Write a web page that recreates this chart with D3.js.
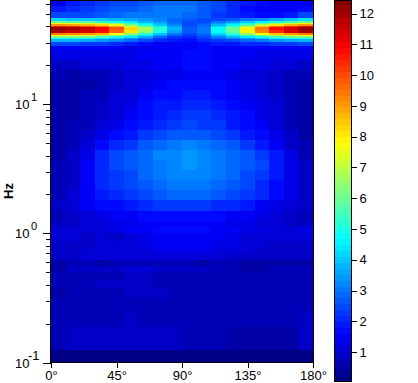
<!DOCTYPE html>
<html><head><meta charset="utf-8">
<script src="https://cdnjs.cloudflare.com/ajax/libs/d3/7.8.5/d3.min.js"></script>
<style>
html,body{margin:0;padding:0;background:#fff}
svg{display:block}
text{font-family:"Liberation Sans",Arial,sans-serif;fill:#000}
</style></head><body>
<svg id="c" width="418" height="383"></svg>
<script>
const angleEdges=[0,10,20,30,40,50,60,70,80,90,100,110,120,130,140,150,160,170,180];
const freqEdges=[64,57.5,51.7,46.4,44,42.8,41.7,40.6,39.5,37.5,35.5,34.6,33.7,32.8,31.9,30.2,28.2,26.2,21.9,18.3,15.3,12.8,10.7,8.98,7.52,6.29,5.26,4.4,3.68,3.08,2.58,2.15,1.8,1.5,1.25,1.125,1,0.875,0.75,0.6875,0.625,0.5625,0.5,0.4375,0.375,0.3125,0.25,0.1875,0.125,0.1];
const power=[
[1.3,1.9,2.0,2.3,2.4,2.5,2.7,2.8,2.9,2.9,2.6,2.4,2.1,1.8,1.6,1.4,1.4,1.5],
[1.8,2.1,2.3,2.5,2.6,2.7,2.9,3.0,3.0,3.0,2.7,2.4,2.0,1.7,1.5,1.4,1.4,1.7],
[2.5,2.5,2.5,2.7,2.9,3.0,3.0,3.0,3.0,2.9,2.6,2.3,2.1,1.8,1.7,1.7,1.9,2.4],
[4.2,4.1,4.1,4.0,3.8,3.6,3.4,3.2,2.9,2.6,2.4,2.5,2.7,3.0,3.3,3.7,4.0,4.3],
[5.9,5.8,5.7,5.4,4.9,4.4,3.9,3.4,2.9,2.5,2.5,3.0,3.5,4.0,4.6,5.2,5.6,5.9],
[7.6,7.5,7.3,6.9,6.3,5.4,4.6,3.8,3.1,2.5,2.7,3.5,4.2,4.9,5.8,6.6,7.2,7.6],
[9.1,8.9,8.7,8.2,7.4,6.2,5.0,4.1,3.3,2.5,2.8,3.8,4.6,5.6,7.0,8.0,8.7,9.1],
[10.6,10.4,10.1,9.7,8.8,7.3,5.9,4.7,3.6,2.6,2.9,4.2,5.3,6.8,8.4,9.5,10.2,10.7],
[12.2,12.0,11.6,11.0,9.9,8.2,6.8,5.2,3.8,2.6,3.1,4.7,5.9,7.8,9.4,10.7,11.4,12.2],
[11.9,11.6,11.4,10.8,9.6,8.0,6.5,5.0,3.7,2.6,3.1,4.7,6.0,7.9,9.2,10.5,11.3,12.0],
[9.5,9.3,9.1,8.6,7.7,6.5,5.2,4.0,3.1,2.4,2.8,4.2,5.2,6.5,7.6,8.5,9.0,9.5],
[7.8,7.7,7.5,7.0,6.3,5.3,4.3,3.4,2.7,2.2,2.6,3.6,4.4,5.3,6.1,6.9,7.4,7.8],
[6.2,6.1,5.9,5.5,5.0,4.3,3.6,2.9,2.3,2.0,2.4,3.2,3.8,4.3,4.9,5.5,5.9,6.2],
[5.0,4.9,4.7,4.4,4.1,3.5,3.0,2.5,2.1,1.9,2.2,2.8,3.2,3.5,4.0,4.5,4.7,5.0],
[3.9,3.8,3.7,3.4,3.2,2.8,2.4,2.0,1.8,1.7,2.0,2.3,2.5,2.8,3.1,3.4,3.7,3.9],
[2.4,2.4,2.3,2.2,2.1,1.9,1.7,1.5,1.5,1.5,1.7,1.8,1.9,2.0,2.1,2.2,2.3,2.4],
[1.5,1.5,1.5,1.4,1.4,1.3,1.3,1.4,1.4,1.5,1.6,1.5,1.4,1.4,1.4,1.4,1.4,1.4],
[1.2,1.2,1.2,1.2,1.3,1.3,1.4,1.4,1.5,1.6,1.6,1.5,1.4,1.4,1.3,1.2,1.2,1.2],
[.95,.95,1.0,1.05,1.15,1.2,1.3,1.4,1.45,1.6,1.6,1.55,1.45,1.35,1.25,1.15,1.05,.95],
[.62,.6,.65,.8,.95,1.0,1.15,1.25,1.3,1.45,1.45,1.4,1.3,1.15,1.05,.95,.8,.65],
[.5,.48,.55,.75,.9,1.05,1.25,1.5,1.6,1.7,1.7,1.6,1.45,1.3,1.1,.95,.7,.5],
[.5,.5,.62,.8,1.0,1.15,1.5,1.65,1.75,1.85,1.85,1.7,1.55,1.35,1.15,.9,.7,.45],
[.48,.55,.7,.85,1.05,1.25,1.6,1.8,1.9,2.0,2.0,1.9,1.65,1.45,1.2,1.0,.75,.45],
[.5,.6,.75,.95,1.1,1.5,1.75,1.95,2.1,2.2,2.2,2.0,1.8,1.6,1.3,1.05,.8,.5],
[.5,.62,.8,1.05,1.3,1.7,1.95,2.1,2.3,2.4,2.3,2.2,1.95,1.7,1.45,1.1,.8,.55],
[.5,.68,.95,1.25,1.7,1.9,2.2,2.45,2.6,2.7,2.6,2.45,2.2,1.95,1.6,1.2,.85,.55],
[.5,.7,1.05,1.6,2.1,2.3,2.65,2.9,3.05,3.15,3.05,2.85,2.6,2.3,1.95,1.4,.95,.65],
[.6,.85,1.3,2.1,2.4,2.65,2.9,3.15,3.25,3.35,3.25,3.0,2.85,2.6,2.35,1.85,1.2,.8],
[.62,.9,1.4,2.15,2.4,2.6,2.85,3.1,3.25,3.35,3.2,3.0,2.8,2.6,2.4,1.95,1.35,.85],
[.65,.95,1.4,2.1,2.35,2.55,2.8,3.05,3.15,3.2,3.15,2.95,2.75,2.55,2.3,1.9,1.35,.9],
[.7,.95,1.4,2.0,2.25,2.45,2.7,2.9,3.0,3.0,2.95,2.8,2.6,2.4,2.15,1.7,1.3,.9],
[.75,1.0,1.45,1.8,2.1,2.35,2.5,2.7,2.8,2.85,2.8,2.6,2.5,2.3,2.0,1.6,1.25,.95],
[.85,1.05,1.4,1.6,1.75,1.95,2.1,2.2,2.25,2.25,2.2,2.1,2.0,1.8,1.55,1.25,1.0,.85],
[.8,.95,1.05,1.25,1.4,1.5,1.6,1.7,1.75,1.75,1.75,1.6,1.55,1.4,1.2,1.0,.85,.8],
[.9,.95,1.05,1.1,1.2,1.3,1.4,1.45,1.5,1.45,1.45,1.4,1.35,1.25,1.15,1.05,.95,.95],
[1.05,1.1,1.1,1.15,1.25,1.4,1.5,1.65,1.75,1.75,1.7,1.55,1.45,1.3,1.2,1.15,1.15,1.2],
[1.05,1.05,.95,1.0,.95,1.15,1.3,1.4,1.45,1.45,1.4,1.4,1.3,1.15,1.0,1.0,1.0,1.1],
[.9,.95,.9,1.05,1.05,1.15,1.2,1.4,1.5,1.5,1.45,1.3,1.2,1.15,1.05,.95,.9,.95],
[.95,.95,1.0,1.05,1.05,1.1,1.1,1.25,1.25,1.25,1.2,1.15,1.05,1.0,.95,.9,.95,.95],
[.85,.95,1.0,1.0,1.05,1.05,1.05,1.05,1.1,1.05,1.0,1.0,.95,.9,.9,.85,.9,.9],
[.6,.65,.65,.6,.65,.7,.75,.75,.7,.65,.6,.65,.65,.6,.55,.55,.55,.6],
[.6,.85,.85,.95,.95,1.0,1.0,.95,.9,.9,.85,.75,.7,.6,.6,.65,.7,.7],
[.65,.8,.8,.8,.8,.85,.85,.8,.8,.8,.8,.8,.75,.75,.75,.75,.65,.65],
[.7,.75,.8,.95,.95,.95,.85,.8,.8,.8,.8,.75,.7,.7,.7,.75,.75,.75],
[.6,.65,.7,.7,.75,.9,.9,.9,.8,.8,.8,.7,.65,.65,.65,.65,.7,.7],
[.7,.7,.75,.75,.75,.75,.75,.75,.65,.65,.65,.65,.65,.65,.65,.7,.75,.75],
[.7,.7,.7,.75,.75,.85,.75,.75,.7,.7,.7,.7,.65,.65,.65,.65,.7,.85],
[.65,.95,.95,.95,.95,.95,.95,.95,.95,.75,.75,.7,.6,.6,.6,.6,.6,.85],
[.2,.2,.2,.2,.2,.2,.2,.2,.2,.2,.2,.2,.2,.2,.2,.2,.2,.2]
];
const angleTicks=[0,45,90,135,180];
const decadeTicks=[{v:10,e:"1"},{v:1,e:"0"},{v:0.1,e:"-1"}];
const minorTicks=[60,50,40,30,20,9,8,7,6,5,4,3,2,.9,.8,.7,.6,.5,.4,.3,.2];
const barTicks=[1,2,3,4,5,6,7,8,9,10,11,12];
const valueDomain=[0.03,12.44];

function jet(t){
  const c=v=>Math.round(255*Math.max(0,Math.min(1,v)));
  return d3.rgb(c(1.5-Math.abs(4*t-3)),c(1.5-Math.abs(4*t-2)),c(1.5-Math.abs(4*t-1))).formatHex();
}
const palette=d3.range(64).map(i=>jet((i+0.5)/64));
const color=d3.scaleQuantize().domain(valueDomain).range(palette);

const x=d3.scaleLinear().domain([0,180]).range([51,313]);
const y=d3.scaleLog().domain([0.1,64]).range([362.5,0]);
const svg=d3.select("#c");

const cells=[];
power.forEach((row,r)=>row.forEach((v,c)=>cells.push({r,c,v})));
svg.append("g").attr("shape-rendering","crispEdges").selectAll("rect").data(cells).join("rect")
  .attr("x",d=>x(angleEdges[d.c]))
  .attr("width",d=>x(angleEdges[d.c+1])-x(angleEdges[d.c]))
  .attr("y",d=>y(freqEdges[d.r]))
  .attr("height",d=>y(freqEdges[d.r+1])-y(freqEdges[d.r]))
  .attr("fill",d=>color(d.v));

// frame
svg.append("path").attr("d","M50.5,362.5V0.5H313.5V362.5H50.5").attr("fill","none").attr("stroke","#000").attr("shape-rendering","crispEdges");

// x axis
const gx=svg.append("g").attr("transform","translate(0,362.5)").attr("shape-rendering","crispEdges")
  .call(d3.axisBottom(x).tickValues(angleTicks).tickSize(5).tickFormat(d=>d+"°"));
gx.select(".domain").remove();
gx.selectAll("text").attr("font-size",13).attr("y",8).attr("dy","0.71em").attr("fill","#000");

// y axis
const gyMinor=svg.append("g").attr("transform","translate(50.5,0)").attr("shape-rendering","crispEdges")
  .call(d3.axisLeft(y).tickValues(minorTicks).tickSize(5).tickFormat(""));
gyMinor.select(".domain").remove();
const gyMajor=svg.append("g").attr("transform","translate(50.5,0)").attr("shape-rendering","crispEdges")
  .call(d3.axisLeft(y).tickValues(decadeTicks.map(d=>d.v)).tickSize(8).tickFormat(""));
gyMajor.select(".domain").remove();
decadeTicks.forEach(d=>{
  const yy=Math.round(y(d.v));
  svg.append("text").attr("x",15).attr("y",yy+5).attr("font-size",13).text("10");
  svg.append("text").attr("x",d.e==="-1"?28:31).attr("y",yy-3).attr("font-size",d.e==="-1"?13:11).text(d.e);
});
svg.append("text").attr("transform","translate(13,191) rotate(-90)").attr("text-anchor","middle")
  .attr("font-size",13).attr("font-weight","bold").text("Hz");

// colour bar
const cb=d3.scaleLinear().domain(valueDomain).range([382,0]);
const step=(valueDomain[1]-valueDomain[0])/64;
svg.append("g").attr("shape-rendering","crispEdges").selectAll("rect").data(palette).join("rect")
  .attr("x",335).attr("width",16)
  .attr("y",(d,i)=>cb(valueDomain[0]+(i+1)*step))
  .attr("height",cb(0)-cb(step))
  .attr("fill",d=>d);
svg.append("rect").attr("x",334.5).attr("y",0.5).attr("width",17).attr("height",381)
  .attr("fill","none").attr("stroke","#000").attr("shape-rendering","crispEdges");
const gb=svg.append("g").attr("transform","translate(351.5,0)").attr("shape-rendering","crispEdges")
  .call(d3.axisRight(cb).tickValues(barTicks).tickSize(5).tickFormat(d3.format("d")));
gb.select(".domain").remove();
gb.selectAll("text").attr("font-size",13).attr("x",8).attr("fill","#000");
</script>
</body></html>
